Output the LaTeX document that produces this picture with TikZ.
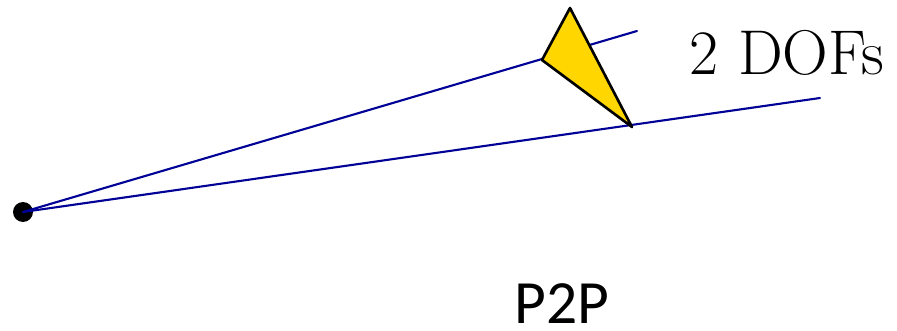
\documentclass[tikz,border=0pt]{standalone}
\usepackage{fontspec}
\newfontfamily\labelfont{Carlito}
\definecolor{raynavy}{RGB}{0,0,150}
\definecolor{camgold}{RGB}{255,214,0}
\tikzset{
  ray/.style={draw=raynavy,line width=1.2pt},
  cam/.style={fill=camgold,draw=black,line width=1.5pt,line join=round},
}

\begin{document}
\begin{tikzpicture}[x=0.02cm,y=-0.02cm,line cap=round]
        \useasboundingbox (0,0) rectangle (897,331);

        % camera centre
        \node[circle,fill=black,inner sep=0pt,minimum size=0.4cm] (ctr) at (23,212) {};

        % far ends of the rays
        \coordinate (endA) at (637,31);
        \coordinate (endB) at (820,98);

        \draw[ray] (ctr.center) -- (endA);
        \draw[ray] (ctr.center) -- (endB);

        % the object
        \coordinate (tipT) at (570,8);
        \coordinate (tipL) at (542,60);
        \coordinate (tipB) at (632,127);
        \draw[cam] (tipT) -- (tipL) -- (tipB) -- cycle;

        \node[anchor=base,inner sep=0pt] (dof) at (787,75) {\fontsize{36}{40}\selectfont 2 DOFs};
        \node[anchor=base,inner sep=0pt] (name) at (562,323) {\labelfont\fontsize{35}{40}\selectfont P2P};
    \end{tikzpicture}
\end{document}
